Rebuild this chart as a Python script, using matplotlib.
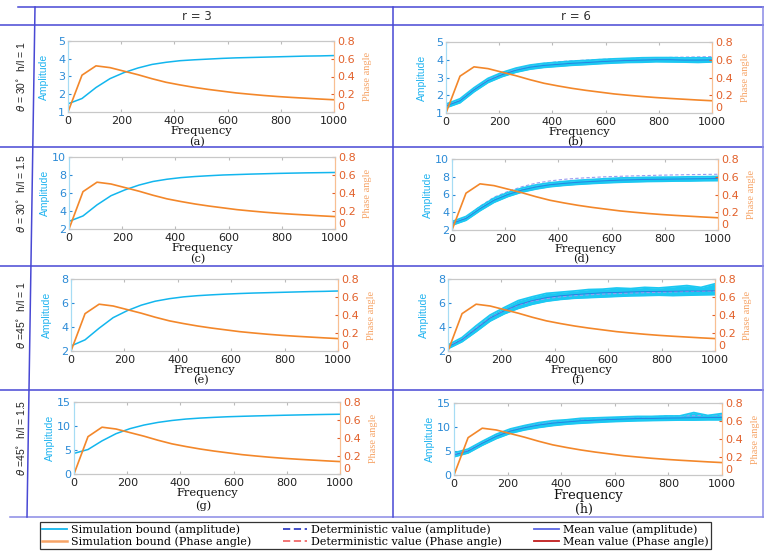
import matplotlib
matplotlib.use("Agg")
import matplotlib.pyplot as plt
from matplotlib.lines import Line2D

# ---------------- data ----------------
freq = [0, 52.6, 105.3, 157.9, 210.5, 263.2, 315.8, 368.4, 421.1, 473.7,
        526.3, 578.9, 631.6, 684.2, 736.8, 789.5, 842.1, 894.7, 947.4, 1000]

phase = [0, 0.415, 0.52, 0.50, 0.46, 0.42, 0.375, 0.335, 0.305, 0.278,
         0.255, 0.235, 0.215, 0.200, 0.186, 0.174, 0.164, 0.155, 0.146, 0.138]

# deterministic amplitude (left column, r = 3)
amp_a = [1.46, 1.76, 2.38, 2.88, 3.22, 3.48, 3.68, 3.80, 3.89, 3.94,
         3.98, 4.02, 4.05, 4.07, 4.09, 4.11, 4.13, 4.15, 4.16, 4.18]
amp_c = [2.85, 3.45, 4.68, 5.70, 6.35, 6.88, 7.28, 7.53, 7.71, 7.83,
         7.92, 8.00, 8.05, 8.10, 8.14, 8.18, 8.21, 8.24, 8.26, 8.28]
amp_e = [2.42, 2.93, 3.90, 4.78, 5.36, 5.82, 6.15, 6.36, 6.51, 6.61,
         6.68, 6.74, 6.79, 6.83, 6.86, 6.89, 6.92, 6.95, 6.97, 7.00]
amp_g = [4.30, 5.10, 6.90, 8.40, 9.45, 10.20, 10.75, 11.15, 11.45, 11.65,
         11.80, 11.93, 12.02, 12.10, 12.17, 12.24, 12.30, 12.36, 12.41, 12.45]

# simulation bounds and mean (right column, r = 6)
b_lo = [1.30, 1.58, 2.20, 2.72, 3.05, 3.30, 3.47, 3.57, 3.63, 3.69,
        3.73, 3.78, 3.82, 3.85, 3.86, 3.89, 3.88, 3.87, 3.85, 3.88]
b_hi = [1.50, 1.80, 2.42, 2.95, 3.28, 3.53, 3.70, 3.80, 3.86, 3.92,
        3.96, 4.01, 4.05, 4.08, 4.11, 4.12, 4.12, 4.10, 4.11, 4.10]
b_mean = [1.40, 1.69, 2.31, 2.83, 3.16, 3.41, 3.58, 3.68, 3.74, 3.80,
          3.84, 3.89, 3.93, 3.96, 3.98, 4.00, 4.00, 3.98, 3.98, 3.99]

d_lo = [2.55, 3.10, 4.18, 5.12, 5.78, 6.28, 6.62, 6.88, 7.03, 7.15,
        7.24, 7.32, 7.38, 7.43, 7.47, 7.49, 7.52, 7.53, 7.56, 7.57]
d_hi = [2.95, 3.52, 4.62, 5.58, 6.22, 6.72, 7.08, 7.32, 7.47, 7.60,
        7.69, 7.78, 7.86, 7.89, 7.93, 7.95, 7.96, 7.99, 8.00, 8.03]
d_mean = [2.75, 3.30, 4.40, 5.35, 6.00, 6.50, 6.85, 7.10, 7.25, 7.38,
          7.47, 7.55, 7.62, 7.66, 7.70, 7.72, 7.74, 7.76, 7.78, 7.80]

f_lo = [2.20, 2.78, 3.62, 4.50, 5.10, 5.55, 5.90, 6.15, 6.30, 6.40,
        6.45, 6.50, 6.55, 6.60, 6.62, 6.65, 6.62, 6.65, 6.68, 6.70]
f_hi = [2.50, 3.12, 4.10, 5.00, 5.62, 6.20, 6.52, 6.80, 6.90, 7.00,
        7.12, 7.15, 7.25, 7.20, 7.30, 7.25, 7.35, 7.45, 7.30, 7.60]
f_mean = [2.35, 2.95, 3.85, 4.75, 5.35, 5.85, 6.20, 6.45, 6.60, 6.70,
          6.78, 6.85, 6.88, 6.92, 6.95, 6.97, 6.98, 7.00, 7.00, 7.02]

h_lo = [3.80, 4.60, 6.20, 7.60, 8.70, 9.40, 9.90, 10.30, 10.60, 10.80,
        10.95, 11.10, 11.20, 11.30, 11.35, 11.40, 11.45, 11.45, 11.50, 11.50]
h_hi = [4.60, 5.40, 7.00, 8.50, 9.60, 10.30, 10.90, 11.30, 11.50, 11.80,
        11.90, 12.00, 12.10, 12.20, 12.20, 12.30, 12.30, 13.00, 12.40, 12.80]
h_mean = [4.20, 5.00, 6.60, 8.05, 9.15, 9.85, 10.40, 10.80, 11.05, 11.30,
          11.42, 11.55, 11.65, 11.75, 11.78, 11.85, 11.88, 11.95, 11.95, 12.00]

col_headers = ["r = 3", "r = 6"]
row_labels = [r"$\theta$ = 30$^{\circ}$  h/l = 1", r"$\theta$ = 30$^{\circ}$  h/l = 1.5",
              r"$\theta$ =45$^{\circ}$  h/l = 1", r"$\theta$ =45$^{\circ}$  h/l = 1.5"]
captions = ["(a)", "(b)", "(c)", "(d)", "(e)", "(f)", "(g)", "(h)"]
amp_ylims = [(1, 5), (2, 10), (2, 8), (0, 15)]
amp_yticks = [[1, 2, 3, 4, 5], [2, 4, 6, 8, 10], [2, 4, 6, 8], [0, 5, 10, 15]]
phase_ticks = [0, 0.2, 0.4, 0.6, 0.8]
phase_ticklabels = ["0", "0.2", "0.4", "0.6", "0.8"]
freq_ticks = [0, 200, 400, 600, 800, 1000]
legend_labels = ["Simulation bound (amplitude)", "Simulation bound (Phase angle)",
                 "Deterministic value (amplitude)", "Deterministic value (Phase angle)",
                 "Mean value (amplitude)", "Mean value (Phase angle)"]

# ---------------- styling ----------------
W, H = 764, 551
fig = plt.figure(figsize=(W / 100, H / 100), dpi=100)
fig.patch.set_facecolor("white")

CYAN = "#12b6ee"
BAND = "#1cc8f2"
ORANGE = "#f3872a"
TICK_BLUE = "#2a8ad6"
TICK_ORANGE = "#e2602a"
LAB_BLUE = "#22b4f0"
LAB_ORANGE = "#f6a467"
DET_BLUE = "#9a9af0"
MEAN_BLUE = "#2f58d8"
TABLE = "#4848d4"
NARROW = ["Liberation Sans Narrow", "Liberation Sans", "DejaVu Sans"]
SERIF = ["Liberation Serif", "DejaVu Serif"]
WSERIF = ["DejaVu Serif"]


def fig_line(x0, y0, x1, y1, color=TABLE, lw=1.1):
    fig.add_artist(Line2D([x0 / W, x1 / W], [1 - y0 / H, 1 - y1 / H],
                          transform=fig.transFigure, color=color, lw=lw))


# table lines
fig_line(18, 7, W, 7)
fig_line(0, 25, W, 25)
fig_line(0, 147, W, 147)
fig_line(0, 266, W, 266)
fig_line(0, 390, W, 390)
fig_line(10, 517, W, 517, color="#8a8ae6")
fig_line(35, 7, 27, 517)
fig_line(393, 7, 393, 517)
fig_line(763, 7, 763, 517, color="#8a8ae6")

# column headers
fig.text(197 / W, 1 - 17 / H, col_headers[0], ha="center", va="center",
         fontsize=8.5, color="#333333")
fig.text(576 / W, 1 - 17 / H, col_headers[1], ha="center", va="center",
         fontsize=8.5, color="#333333")

# panel boxes in pixels (left, top, right, bottom)
boxes = [(68, 41, 334, 112), (446, 42, 712, 113),
         (69, 157, 335, 229), (452, 159, 718, 230),
         (71, 279, 338, 351), (448, 279, 715, 351),
         (74, 402, 340, 474), (454, 403, 722, 475)]
caption_y = [142, 142, 259, 259, 380, 380, 506, 509]
left_series = [amp_a, amp_c, amp_e, amp_g]
right_series = [(b_lo, b_hi, b_mean), (d_lo, d_hi, d_mean),
                (f_lo, f_hi, f_mean), (h_lo, h_hi, h_mean)]

for i, (l, t, r, b) in enumerate(boxes):
    row, colm = divmod(i, 2)
    ax = fig.add_axes([l / W, 1 - b / H, (r - l) / W, (b - t) / H])
    ax2 = ax.twinx()
    det = left_series[row]
    if colm == 0:
        ax.plot(freq, det, color=CYAN, lw=1.1)
    else:
        lo, hi, mean = right_series[row]
        ax.plot(freq, det, color=DET_BLUE, lw=0.8, ls=(0, (3, 2)))
        ax.fill_between(freq, lo, hi, color=BAND, lw=0)
        ax.plot(freq, lo, color=BAND, lw=1.3)
        ax.plot(freq, hi, color=BAND, lw=1.3)
        ax.plot(freq, mean, color=MEAN_BLUE, lw=0.6, alpha=0.7)
    ax2.plot(freq, phase, color=ORANGE, lw=1.2)

    ax.set_xlim(0, 1000)
    ax.set_ylim(*amp_ylims[row])
    ax.set_yticks(amp_yticks[row])
    ax.set_xticks(freq_ticks)
    ax2.set_ylim(0, 0.8)
    ax2.set_yticks(phase_ticks)
    ax2.set_yticklabels(phase_ticklabels)
    ax2.get_yticklabels()[0].set_verticalalignment("bottom")

    ax.tick_params(axis="y", direction="in", length=2.5, labelsize=8,
                   colors=TICK_BLUE, pad=2)
    ax.tick_params(axis="x", direction="in", length=2.5, labelsize=8,
                   colors="#bbbbbb", labelcolor="#222222", top=True, pad=3.2)
    ax2.tick_params(axis="y", direction="in", length=2.5, labelsize=8,
                    colors=TICK_ORANGE, pad=2)
    for a in (ax, ax2):
        a.spines["top"].set_color("#c8c8c8")
        a.spines["bottom"].set_color("#c8c8c8")
        a.spines["left"].set_color("#a6dcf4")
        a.spines["right"].set_color("#f8bf92")
        for s in a.spines.values():
            s.set_linewidth(0.8)

    big = (row == 3 and colm == 1)
    ax.set_xlabel("Frequency", fontfamily=WSERIF, fontsize=9.3 if big else 8.2,
                  labelpad=0, color="#111111")

    cy = (t + b) / 2
    fig.text((l - 24) / W, 1 - cy / H, "Amplitude", rotation=90, ha="center",
             va="center", fontsize=7.5, family=NARROW, color=LAB_BLUE)
    fig.text((r + 33) / W, 1 - cy / H, "Phase angle", rotation=90, ha="center",
             va="center", fontsize=7.5, family=SERIF, color=LAB_ORANGE)
    fig.text((l + r) / 2 / W - 0.005, 1 - caption_y[i] / H, captions[i], ha="center",
             va="center", fontsize=9.0 if big else 8.2, family=WSERIF, color="#111111")
    if colm == 0:
        fig.text(21 / W, 1 - cy / H, row_labels[row], rotation=90, ha="center",
                 va="center", fontsize=7.5, family=NARROW, color="#222222")

# legend
handles = [Line2D([], [], color=CYAN, lw=1.3),
           Line2D([], [], color=LAB_ORANGE, lw=1.8),
           Line2D([], [], color="#3440c4", lw=1.3, ls=(0, (4, 2))),
           Line2D([], [], color="#f06a6a", lw=1.3, ls=(0, (4, 2))),
           Line2D([], [], color="#5a66e4", lw=1.3),
           Line2D([], [], color="#c01c1c", lw=1.3)]
leg = fig.legend(handles, legend_labels, ncol=3, loc="upper left",
                 bbox_to_anchor=(40 / W, 1 - 522 / H),
                 prop={"family": WSERIF, "size": 8.0},
                 frameon=True, fancybox=False, edgecolor="black",
                 handlelength=2.2, handletextpad=0.35, columnspacing=2.9,
                 labelspacing=0.15, borderpad=0.2, borderaxespad=0)
leg.get_frame().set_linewidth(0.9)

fig.savefig("out.png", dpi=100, facecolor="white")
